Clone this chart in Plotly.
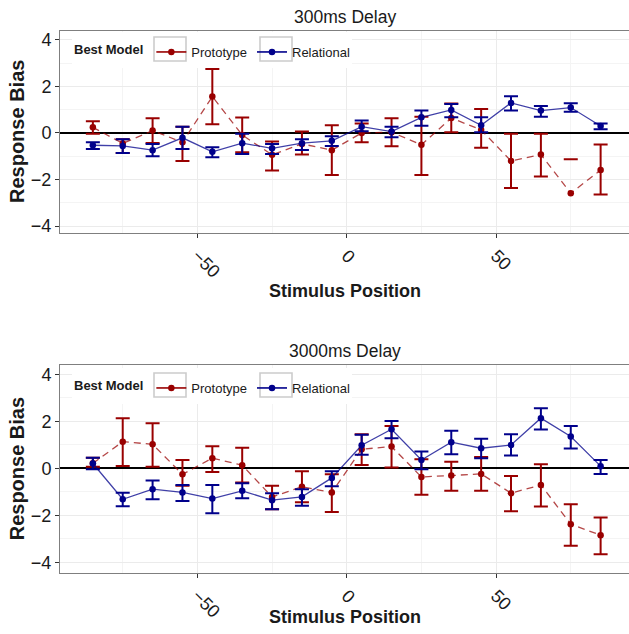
import plotly.graph_objects as go

# Stimulus positions (degrees)
positions = [-85, -75, -65, -55, -45, -35, -25, -15, -5, 5, 15, 25, 35, 45, 55, 65, 75, 85]

# 300ms delay: mean response bias with error-bar limits
short_proto_mean = [0.24, -0.45, 0.10, -0.40, 1.56, -0.09, -0.94, -0.47, -0.74,
                    0.00, 0.03, -0.51, 0.64, 0.13, -1.20, -0.93, -2.59, -1.59]
short_proto_lo = [-0.04, -0.86, -0.43, -1.20, 0.37, -0.83, -1.61, -0.93, -1.81,
                  -0.40, -0.57, -1.81, 0.03, -0.64, -2.37, -1.87, -1.13, -2.64]
short_proto_hi = [0.50, -0.27, 0.63, 0.27, 2.74, 0.66, -0.37, 0.06, 0.33,
                  0.40, 0.63, 0.70, 1.26, 1.03, -0.04, -0.04, -1.13, -0.50]

short_rel_mean = [-0.53, -0.56, -0.74, -0.21, -0.81, -0.44, -0.66, -0.44, -0.34,
                  0.27, 0.06, 0.67, 0.99, 0.33, 1.29, 0.96, 1.09, 0.30]
short_rel_lo = [-0.69, -0.86, -1.00, -0.69, -1.04, -0.90, -0.90, -0.73, -0.56,
                0.07, -0.19, 0.31, 0.67, 0.03, 0.96, 0.70, 0.91, 0.16]
short_rel_hi = [-0.40, -0.27, -0.47, 0.27, -0.61, -0.04, -0.47, -0.27, -0.14,
                0.53, 0.27, 0.96, 1.24, 0.67, 1.57, 1.16, 1.27, 0.41]

# 3000ms delay
long_proto_mean = [0.21, 1.13, 1.02, -0.26, 0.43, 0.13, -1.22, -0.79, -1.03,
                   0.81, 0.92, -0.37, -0.31, -0.24, -1.06, -0.71, -2.38, -2.85]
long_proto_lo = [0.06, 0.10, 0.06, -0.75, -0.16, -0.61, -1.74, -1.45, -1.86,
                 0.14, 0.03, -1.13, -0.96, -0.96, -1.83, -1.63, -3.30, -3.66]
long_proto_hi = [0.45, 2.13, 1.91, 0.35, 0.94, 0.87, -0.75, -0.13, -0.26,
                 1.45, 1.80, 0.38, 0.28, 0.48, -0.33, 0.17, -1.53, -2.10]

long_rel_mean = [0.20, -1.32, -0.89, -1.03, -1.29, -0.96, -1.36, -1.22, -0.41,
                 0.98, 1.66, 0.35, 1.11, 0.85, 0.99, 2.13, 1.35, 0.09]
long_rel_lo = [-0.04, -1.62, -1.32, -1.39, -1.91, -1.28, -1.74, -1.60, -0.77,
               0.57, 1.28, -0.04, 0.60, 0.43, 0.54, 1.65, 0.84, -0.24]
long_rel_hi = [0.45, -1.04, -0.52, -0.71, -0.71, -0.64, -1.06, -0.89, -0.13,
               1.42, 2.01, 0.71, 1.59, 1.26, 1.45, 2.55, 1.80, 0.35]

panel_titles = ["300ms Delay", "3000ms Delay"]
model_names = ["Prototype", "Relational"]
x_ticks = [-50, 0, 50]
y_ticks = [-4, -2, 0, 2, 4]

RED = "#990000"
RED_LINE = "rgba(153,0,0,0.72)"
BLUE = "#00008B"
BLUE_LINE = "rgba(0,0,139,0.75)"
FONT = "Liberation Sans, Arial, sans-serif"
TXT = "#1a1a1a"

W, H = 629, 634
fig = go.Figure()

panels = [
    dict(xa="x", ya="y", legend="legend",
         series=[(short_proto_mean, short_proto_lo, short_proto_hi, RED, RED_LINE, "7px,5px"),
                 (short_rel_mean, short_rel_lo, short_rel_hi, BLUE, BLUE_LINE, "solid")]),
    dict(xa="x2", ya="y2", legend="legend2",
         series=[(long_proto_mean, long_proto_lo, long_proto_hi, RED, RED_LINE, "7px,5px"),
                 (long_rel_mean, long_rel_lo, long_rel_hi, BLUE, BLUE_LINE, "solid")]),
]

for p in panels:
    for name, (mean, lo, hi, col, lcol, dash) in zip(model_names, p["series"]):
        mid = [(a + b) / 2 for a, b in zip(lo, hi)]
        half = [(b - a) / 2 for a, b in zip(lo, hi)]
        # connecting line
        fig.add_trace(go.Scatter(
            x=positions, y=mean, mode="lines", xaxis=p["xa"], yaxis=p["ya"],
            line=dict(color=lcol, width=1.3, dash=dash), showlegend=False, hoverinfo="skip"))
        # error bars
        fig.add_trace(go.Scatter(
            x=positions, y=mid, mode="markers", xaxis=p["xa"], yaxis=p["ya"],
            marker=dict(size=1, opacity=0),
            error_y=dict(type="data", symmetric=True, array=half, width=7,
                         thickness=2, color=col),
            showlegend=False, hoverinfo="skip"))
        # points
        fig.add_trace(go.Scatter(
            x=positions, y=mean, mode="markers", xaxis=p["xa"], yaxis=p["ya"],
            showlegend=False, marker=dict(color=col, size=6.5)))
        # legend key: short solid line with a point
        fig.add_trace(go.Scatter(
            x=[None], y=[None], mode="lines+markers", xaxis=p["xa"], yaxis=p["ya"],
            name=name, legend=p["legend"],
            line=dict(color=col, width=1.6), marker=dict(color=col, size=6.5)))

dom_x = [60 / W, 1.0]
dom_top = [1 - 233.3 / H, 1 - 30.7 / H]
dom_bot = [1 - 573.3 / H, 1 - 365.3 / H]

axis_font = dict(family=FONT, size=18, color=TXT)
common_x = dict(
    range=[-96, 94.5], domain=dom_x, tickmode="array", tickvals=x_ticks,
    tickangle=45, ticks="outside", ticklen=4, tickcolor="#333", tickwidth=1.2,
    tickfont=axis_font, showgrid=True, gridcolor="#EBEBEB", gridwidth=1,
    minor=dict(tickmode="array", tickvals=[-75, -25, 25, 75], showgrid=True,
               gridcolor="#F4F4F4", gridwidth=1, ticks=""),
    showline=True, linecolor="#7F7F7F", linewidth=1, mirror=True,
    zeroline=False, automargin=False)
common_y = dict(
    tickmode="array", tickvals=y_ticks, ticks="outside", ticklen=4,
    tickcolor="#333", tickwidth=1.2, tickfont=axis_font,
    showgrid=True, gridcolor="#EBEBEB", gridwidth=1,
    minor=dict(tickmode="array", tickvals=[-3, -1, 1, 3], showgrid=True,
               gridcolor="#F4F4F4", gridwidth=1, ticks=""),
    showline=True, linecolor="#7F7F7F", linewidth=1, mirror=True,
    zeroline=True, zerolinecolor="black", zerolinewidth=1.6, automargin=False)

legend_common = dict(
    orientation="h", xanchor="left", yanchor="top", bgcolor="rgba(0,0,0,0)",
    font=dict(family=FONT, size=13, color=TXT),
    title=dict(text="<b>Best Model</b>", side="left",
               font=dict(family=FONT, size=13, color=TXT)),
    itemwidth=30, tracegroupgap=0)

legend_tops = [37, 373]  # px from top of figure

annotations = []
shapes = []
for title, dom, ltop, xshift_title in zip(panel_titles, [dom_top, dom_bot], legend_tops, [-58, -44]):
    annotations.append(dict(text=title, xref="paper", yref="paper",
                            x=(dom_x[0] + dom_x[1]) / 2, y=dom[1],
                            xanchor="center", yanchor="bottom", yshift=2,
                            showarrow=False, font=dict(family=FONT, size=17.5, color=TXT)))
    annotations.append(dict(text="<b>Response Bias</b>", xref="paper", yref="paper",
                            x=17 / W, y=(dom[0] + dom[1]) / 2, textangle=-90,
                            xanchor="center", yanchor="middle", showarrow=False,
                            font=dict(family=FONT, size=20, color=TXT)))
    annotations.append(dict(text="<b>Stimulus Position</b>", xref="paper", yref="paper",
                            x=(dom_x[0] + dom_x[1]) / 2, y=dom[0], yshift=xshift_title,
                            xanchor="center", yanchor="middle", showarrow=False,
                            font=dict(family=FONT, size=18, color=TXT)))
    # white legend panel and grey key boxes
    shapes.append(dict(type="rect", xref="paper", yref="paper", layer="above",
                       x0=72 / W, x1=352 / W, y0=1 - (ltop + 31) / H, y1=1 - (ltop - 5) / H,
                       fillcolor="white", line=dict(width=0)))
    for cx in [170, 276]:
        cy = ltop + 12
        shapes.append(dict(type="rect", xref="paper", yref="paper", layer="above",
                           x0=(cx - 16) / W, x1=(cx + 16) / W,
                           y0=1 - (cy + 12) / H, y1=1 - (cy - 12) / H,
                           fillcolor="white", line=dict(color="#CCCCCC", width=1.6)))

fig.update_layout(
    width=W, height=H, margin=dict(l=0, r=0, t=0, b=0),
    paper_bgcolor="white", plot_bgcolor="white",
    xaxis=dict(common_x, anchor="y"),
    yaxis=dict(common_y, anchor="x", domain=dom_top, range=[-4.31, 4.39]),
    xaxis2=dict(common_x, anchor="y2"),
    yaxis2=dict(common_y, anchor="x2", domain=dom_bot, range=[-4.47, 4.38]),
    legend=dict(legend_common, x=72 / W, y=1 - legend_tops[0] / H),
    legend2=dict(legend_common, x=72 / W, y=1 - legend_tops[1] / H),
    annotations=annotations,
    shapes=shapes,
    showlegend=True,
)

fig.write_html("out.html")
